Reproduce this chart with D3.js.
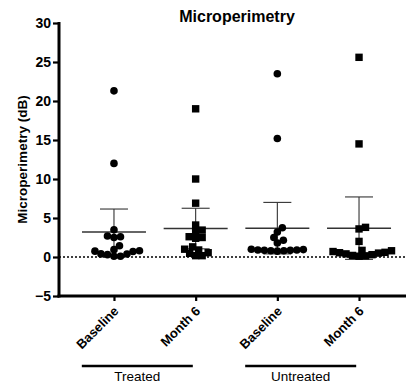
<!DOCTYPE html>
<html>
<head>
<meta charset="utf-8">
<script src="https://cdn.jsdelivr.net/npm/d3@7"></script>
<style>
  body { margin: 0; background: #fff; }
  svg { display: block; font-family: "Liberation Sans", Arial, Helvetica, sans-serif; }
</style>
</head>
<body>
<script>
// columns, left to right
var columns = ["Treated Baseline", "Treated Month 6", "Untreated Baseline", "Untreated Month 6"];
var tickLabels = ["Baseline", "Month 6", "Baseline", "Month 6"];
var groups = ["Treated", "Untreated"];
var groupCols = [["Treated Baseline", "Treated Month 6"], ["Untreated Baseline", "Untreated Month 6"]];
var yTicks = [-5, 0, 5, 10, 15, 20, 25, 30];

// individual eyes (dB)
var treatedBaseline = [21.3, 12.0, 3.5, 2.7, 2.6, 2.5, 1.45, 0.94, 0.8, 0.75, 0.7, 0.4, 0.38, 0.3, 0.1, 0.1];
var treatedMonth6 = [19.0, 10.0, 6.9, 4.1, 3.45, 3.25, 2.6, 2.5, 2.4, 1.3, 1.0, 0.9, 0.55, 0.47, 0.17, 0.17];
var untreatedBaseline = [23.5, 15.2, 3.75, 3.2, 2.5, 2.15, 1.8, 1.0, 0.95, 0.9, 0.9, 0.85, 0.85, 0.8, 0.8, 0.75];
var untreatedMonth6 = [25.6, 14.5, 3.8, 3.6, 2.0, 0.85, 0.8, 0.7, 0.6, 0.55, 0.5, 0.4, 0.3, 0.2, 0.15, 0.1];

// mean and SD as drawn
var means = [3.2, 3.65, 3.7, 3.7];
var sds = [2.95, 2.6, 3.3, 4.0];

var seriesValues = [treatedBaseline, treatedMonth6, untreatedBaseline, untreatedMonth6];

var W = 406, H = 392;
var svg = d3.select("body").append("svg")
    .attr("width", W)
    .attr("height", H);

var axisX0 = 59;
var x = d3.scalePoint().domain(columns).range([axisX0, 414]).padding(0.673);
var y = d3.scaleLinear().domain([-5, 30]).range([296, 23]);

// title
svg.append("text")
    .attr("x", 237).attr("y", 22)
    .attr("text-anchor", "middle")
    .style("font-size", "16px").style("font-weight", "bold")
    .text("Microperimetry");

// y label
svg.append("text")
    .attr("transform", "translate(27," + ((y(30) + y(-5)) / 2) + ") rotate(-90)")
    .attr("text-anchor", "middle")
    .style("font-size", "13.5px").style("font-weight", "bold")
    .text("Microperimetry (dB)");

// zero line
svg.append("line")
    .attr("x1", axisX0).attr("x2", W)
    .attr("y1", y(0)).attr("y2", y(0))
    .attr("stroke", "#000").attr("stroke-width", 1.3)
    .attr("stroke-dasharray", "2,2");

// y axis
var yAxis = svg.append("g")
    .attr("transform", "translate(" + axisX0 + ",0)")
    .call(d3.axisLeft(y).tickValues(yTicks).tickSizeOuter(0).tickSize(6).tickPadding(2));
yAxis.select(".domain").style("stroke-width", "3px").attr("d", "M0," + (y(30) - 1) + "V" + (y(-5) + 1.5));
yAxis.selectAll(".tick line").style("stroke-width", "2.2px");
yAxis.selectAll("text").style("font-size", "14px").style("font-weight", "bold").attr("fill", "#000");

// x axis
var xAxis = svg.append("g")
    .attr("transform", "translate(0," + y(-5) + ")")
    .call(d3.axisBottom(x).tickSizeOuter(0).tickSize(5).tickFormat(function(d, i) { return tickLabels[i]; }));
xAxis.select(".domain").style("stroke-width", "3px").attr("d", "M" + (axisX0 - 1.5) + ",0H" + (W + 10));
xAxis.selectAll(".tick line").style("stroke-width", "2.2px");
xAxis.selectAll("text")
    .style("font-size", "13px").style("font-weight", "bold").attr("fill", "#000")
    .attr("text-anchor", "end")
    .attr("y", 0).attr("dy", 0)
    .attr("transform", "translate(5,16) rotate(-45)");

// group bars under labels
groupCols.forEach(function(cols, i) {
    var cx = (x(cols[0]) + x(cols[1])) / 2 - 17.5;
    svg.append("line")
        .attr("x1", cx - 55.5).attr("x2", cx + 55.5)
        .attr("y1", 366).attr("y2", 366)
        .attr("stroke", "#000").attr("stroke-width", 2.6);
    svg.append("text")
        .attr("x", cx).attr("y", 381)
        .attr("text-anchor", "middle")
        .style("font-size", "13.5px")
        .text(groups[i]);
});

// mean + SD
var eb = svg.append("g").attr("stroke", "#333").attr("stroke-width", 1.1);
columns.forEach(function(c, i) {
    var cx = x(c), m = means[i], s = sds[i];
    eb.append("line").attr("x1", cx).attr("x2", cx).attr("y1", y(m + s)).attr("y2", y(m - s));
    eb.append("line").attr("x1", cx - 14).attr("x2", cx + 14).attr("y1", y(m + s)).attr("y2", y(m + s));
    eb.append("line").attr("x1", cx - 14).attr("x2", cx + 14).attr("y1", y(m - s)).attr("y2", y(m - s));
    eb.append("line").attr("x1", cx - 32).attr("x2", cx + 32).attr("y1", y(m)).attr("y2", y(m)).attr("stroke-width", 1.5);
});

// simple swarm so points do not pile on each other
function swarm(vals, dist) {
    var placed = [];
    vals.slice().sort(function(a, b) { return a - b; }).forEach(function(v) {
        var py = y(v), off = 0;
        for (var k = 0; k < 400; k++) {
            var cand = (k % 2 ? 1 : -1) * Math.ceil(k / 2) * 0.5;
            var ok = placed.every(function(p) {
                var dx = p.dx - cand, dy = p.py - py;
                return dx * dx + dy * dy >= dist * dist;
            });
            if (ok) { off = cand; break; }
        }
        placed.push({ v: v, py: py, dx: off });
    });
    return placed;
}

columns.forEach(function(c, i) {
    var pts = swarm(seriesValues[i], 6.4);
    var g = svg.append("g").attr("fill", "#000");
    if (i % 2 === 0) {
        g.selectAll("circle").data(pts).enter().append("circle")
            .attr("cx", function(d) { return x(c) + d.dx; })
            .attr("cy", function(d) { return d.py; })
            .attr("r", 3.8);
    } else {
        g.selectAll("rect").data(pts).enter().append("rect")
            .attr("x", function(d) { return x(c) + d.dx - 3.7; })
            .attr("y", function(d) { return d.py - 3.7; })
            .attr("width", 7.4).attr("height", 7.4);
    }
});
</script>
</body>
</html>
